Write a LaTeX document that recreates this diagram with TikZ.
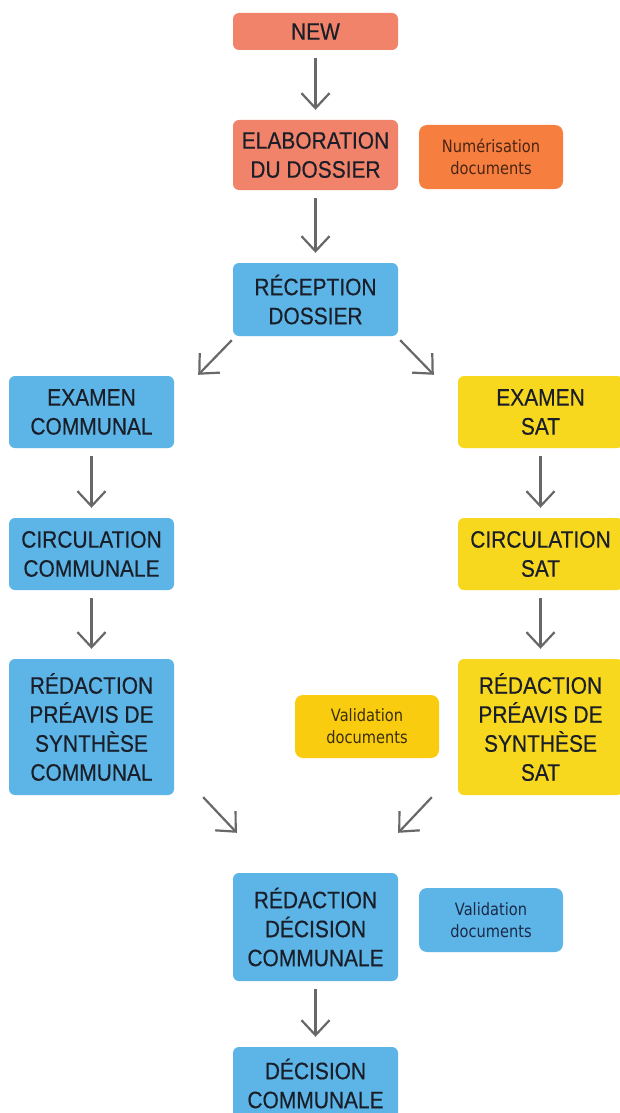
\documentclass[tikz,border=0pt]{standalone}
\usepackage{fontspec}
\setmainfont{Liberation Sans}[FakeStretch=0.88,FakeBold=0.4]
\newfontfamily\smallfont{DejaVu Sans}[FakeStretch=0.86]
\usetikzlibrary{arrows.meta}
\definecolor{salmon}{HTML}{F0836A}
\definecolor{orangebox}{HTML}{F67F3F}
\definecolor{bluebox}{HTML}{5CB5E6}
\definecolor{yellowbox}{HTML}{F8D81E}
\definecolor{valyellow}{HTML}{F9CC10}
\definecolor{arrowgray}{HTML}{686868}
\definecolor{txt}{HTML}{1A1E28}
\definecolor{txtorange}{HTML}{4A2414}
\definecolor{txtyellow}{HTML}{3A2E08}
\definecolor{txtblue}{HTML}{1A2A48}
\tikzset{
  mainbox/.style={rounded corners=6pt, minimum width=165pt, inner sep=0pt, align=center,
    text=txt, font=\fontsize{23.8}{29}\selectfont},
  notebox/.style={rounded corners=8pt, minimum width=144pt, minimum height=64pt, inner sep=0pt,
    align=center, font=\smallfont\fontsize{17}{22}\selectfont},
  arr/.style={draw=arrowgray, line width=2.2pt,
    -{Straight Barb[length=15pt,width=28pt,line width=2.2pt]}},
  down/.style={arr, shorten <=8pt, shorten >=10pt}
}
\begin{document}
\begin{tikzpicture}[x=1pt,y=-1pt]
\useasboundingbox[fill=white] (0,0) rectangle (619,1113);

\node[mainbox, fill=salmon, minimum height=37pt] (new) at (315.5,31.5) {NEW};
\node[mainbox, fill=salmon, minimum height=70pt] (elab) at (315.5,155) {ELABORATION\\DU DOSSIER};
\node[notebox, fill=orangebox, text=txtorange] (num) at (491,157) {Numérisation\\documents};
\node[mainbox, fill=bluebox, minimum height=73pt] (rec) at (315.5,299.5) {RÉCEPTION\\DOSSIER};

\node[mainbox, fill=bluebox, minimum height=72pt] (exc) at (91.5,412) {EXAMEN\\COMMUNAL};
\node[mainbox, fill=yellowbox, minimum height=72pt] (exs) at (540.5,412) {EXAMEN\\SAT};
\node[mainbox, fill=bluebox, minimum height=72pt] (circ) at (91.5,554) {CIRCULATION\\COMMUNALE};
\node[mainbox, fill=yellowbox, minimum height=72pt] (cirs) at (540.5,554) {CIRCULATION\\SAT};
\node[mainbox, fill=bluebox, minimum height=136pt] (redc) at (91.5,727) {RÉDACTION\\PRÉAVIS DE\\SYNTHÈSE\\COMMUNAL};
\node[mainbox, fill=yellowbox, minimum height=136pt] (reds) at (540.5,727) {RÉDACTION\\PRÉAVIS DE\\SYNTHÈSE\\SAT};
\node[notebox, fill=valyellow, text=txtyellow, minimum height=63pt] (valy) at (367,726.5) {Validation\\documents};

\node[mainbox, fill=bluebox, minimum height=108pt] (redd) at (315.5,927) {RÉDACTION\\DÉCISION\\COMMUNALE};
\node[notebox, fill=bluebox, text=txtblue] (valb) at (491,920) {Validation\\documents};
\node[mainbox, fill=bluebox, minimum height=73pt] (dec) at (315.5,1083.5) {DÉCISION\\COMMUNALE};

% vertical arrows
\draw[down] (new) -- (elab);
\draw[down] (elab) -- (rec);
\draw[down] (exc) -- (circ);
\draw[down] (circ) -- (redc);
\draw[down] (exs) -- (cirs);
\draw[down] (cirs) -- (reds);
\draw[down] (redd) -- (dec);

% diagonal arrows
\coordinate (d1s) at ([shift={(-1,4)}]rec.south west);
\coordinate (d1e) at ([shift={(24,-1)}]exc.north east);
\coordinate (d2s) at ([shift={(2,4)}]rec.south east);
\coordinate (d2e) at ([shift={(-24,-1)}]exs.north west);
\draw[arr] (d1s) -- (d1e);
\draw[arr] (d2s) -- (d2e);

\coordinate (d3s) at ([shift={(29,2)}]redc.south east);
\coordinate (d3e) at ([shift={(4,-40)}]redd.north west);
\coordinate (d4s) at ([shift={(-26,2)}]reds.south west);
\coordinate (d4e) at ([shift={(0,-40)}]redd.north east);
\draw[arr] (d3s) -- (d3e);
\draw[arr] (d4s) -- (d4e);
\end{tikzpicture}
\end{document}
